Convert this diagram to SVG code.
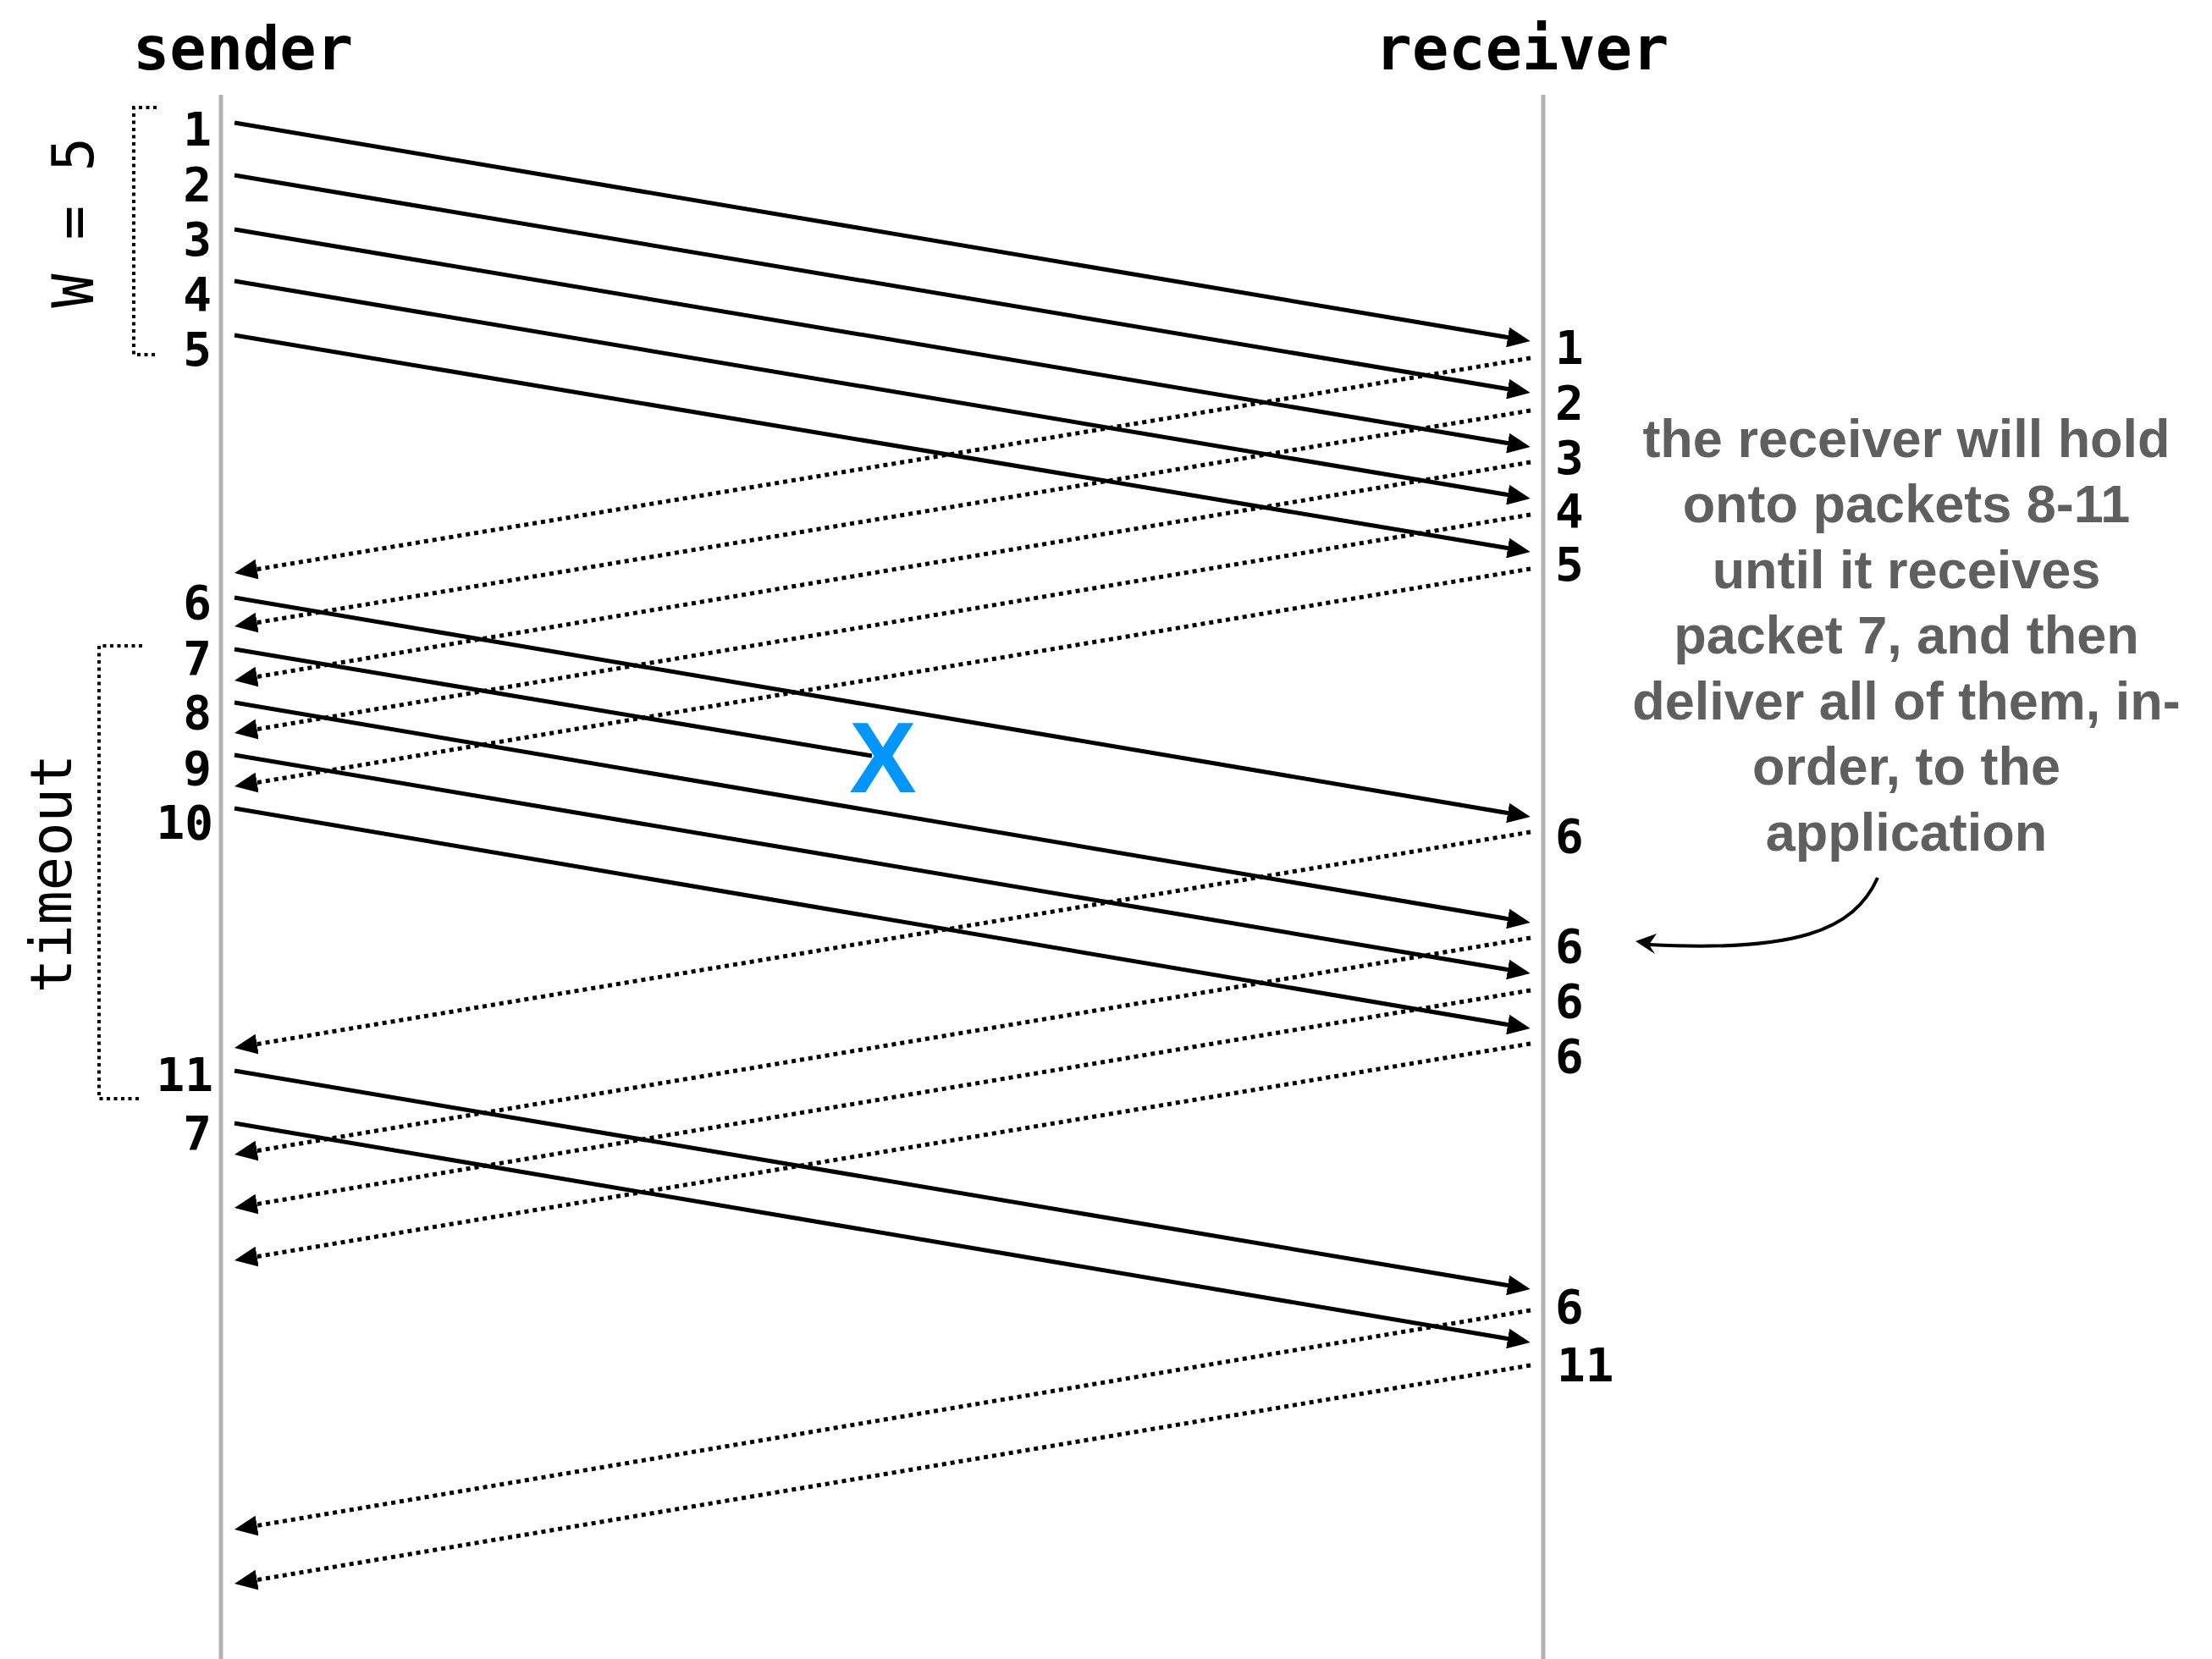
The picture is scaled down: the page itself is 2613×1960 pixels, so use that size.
<svg xmlns="http://www.w3.org/2000/svg" width="2613" height="1960" viewBox="0 0 2613 1960">
<style>
.life{stroke:#b3b3b3;stroke-width:5;fill:none}
.data{stroke:#000;stroke-width:5;fill:none}
.ack{stroke:#000;stroke-width:5;fill:none;stroke-dasharray:5 5}
.brk{stroke:#000;stroke-width:4;fill:none;stroke-dasharray:4 4.5}
.hdr{font-family:"DejaVu Sans Mono","Liberation Mono",monospace;font-weight:bold;font-size:72px;fill:#000}
.num{font-family:"DejaVu Sans Mono","Liberation Mono",monospace;font-weight:bold;font-size:56px;fill:#000}
.sl{text-anchor:end}
.side{font-family:"DejaVu Sans Mono","Liberation Mono",monospace;font-size:67px;fill:#000}
.note{font-family:"Liberation Sans",Arial,sans-serif;font-weight:bold;font-size:63px;fill:#5f5f5f;text-anchor:middle}
</style>
<defs>
<marker id="ah" viewBox="0 0 27 24" markerWidth="27" markerHeight="24" refX="7" refY="12" orient="auto" markerUnits="userSpaceOnUse">
<path d="M0,0 L27,12 L0,24 z" fill="#000"/>
</marker>
</defs>

<g id="sender">
<text class="hdr" x="287" y="82" text-anchor="middle">sender</text>
<line class="life" x1="261" y1="112" x2="261" y2="1960"/>
</g>
<g id="receiver">
<text class="hdr" x="1798" y="82" text-anchor="middle">receiver</text>
<line class="life" x1="1823" y1="112" x2="1823" y2="1960"/>
</g>

<g id="window">
<path class="brk" d="M185,127 H158 V419 H185"/>
<text class="side" transform="translate(110,263) rotate(-90)" text-anchor="middle">W = 5</text>
</g>
<g id="timeout">
<path class="brk" d="M168,763 H117 V1298 H168"/>
<text class="side" transform="translate(84,1032) rotate(-90)" text-anchor="middle">timeout</text>
</g>

<g id="sender-labels">
<text class="num sl" x="250" y="172">1</text>
<text class="num sl" x="250" y="237">2</text>
<text class="num sl" x="250" y="302">3</text>
<text class="num sl" x="250" y="367">4</text>
<text class="num sl" x="250" y="432">5</text>
<text class="num sl" x="250" y="731">6</text>
<text class="num sl" x="250" y="797">7</text>
<text class="num sl" x="250" y="861">8</text>
<text class="num sl" x="250" y="927">9</text>
<text class="num sl" x="252" y="991">10</text>
<text class="num sl" x="252" y="1289">11</text>
<text class="num sl" x="250" y="1358">7</text>
</g>

<g id="receiver-labels">
<text class="num" x="1837" y="430">1</text>
<text class="num" x="1837" y="495">2</text>
<text class="num" x="1837" y="560">3</text>
<text class="num" x="1837" y="623">4</text>
<text class="num" x="1837" y="686">5</text>
<text class="num" x="1837" y="1007">6</text>
<text class="num" x="1837" y="1137">6</text>
<text class="num" x="1837" y="1202">6</text>
<text class="num" x="1837" y="1267">6</text>
<text class="num" x="1837" y="1563">6</text>
<text class="num" x="1839" y="1632">11</text>
</g>

<g id="loss">
<text x="1043" y="936" font-family="Liberation Sans, Arial, sans-serif" font-weight="bold" font-size="119" fill="#0096ff" text-anchor="middle">X</text>
</g>

<g id="note">
<text class="note" x="2252" y="540">the receiver will hold</text>
<text class="note" x="2252" y="617">onto packets 8-11</text>
<text class="note" x="2252" y="695">until it receives</text>
<text class="note" x="2252" y="772">packet 7, and then</text>
<text class="note" x="2252" y="850">deliver all of them, in-</text>
<text class="note" x="2252" y="927">order, to the</text>
<text class="note" x="2252" y="1005">application</text>
</g>

<g id="connectors">
<line class="data" x1="277" y1="145" x2="1788" y2="399.7" marker-end="url(#ah)"/>
<line class="data" x1="277" y1="207" x2="1788" y2="460.7" marker-end="url(#ah)"/>
<line class="data" x1="277" y1="271" x2="1788" y2="524.7" marker-end="url(#ah)"/>
<line class="data" x1="277" y1="332" x2="1788" y2="585.7" marker-end="url(#ah)"/>
<line class="data" x1="277" y1="396" x2="1788" y2="648.7" marker-end="url(#ah)"/>
<line class="data" x1="277" y1="706" x2="1788" y2="961.7" marker-end="url(#ah)"/>
<line class="data" x1="277" y1="767" x2="1030" y2="893"/>
<line class="data" x1="277" y1="830" x2="1788" y2="1086.7" marker-end="url(#ah)"/>
<line class="data" x1="277" y1="892" x2="1788" y2="1146.7" marker-end="url(#ah)"/>
<line class="data" x1="277" y1="955" x2="1788" y2="1211.7" marker-end="url(#ah)"/>
<line class="data" x1="277" y1="1265" x2="1788" y2="1519.7" marker-end="url(#ah)"/>
<line class="data" x1="277" y1="1327" x2="1788" y2="1582.7" marker-end="url(#ah)"/>

<line class="ack" x1="1808" y1="423" x2="296.7" y2="673.7" marker-end="url(#ah)"/>
<line class="ack" x1="1808" y1="485" x2="296.7" y2="736.7" marker-end="url(#ah)"/>
<line class="ack" x1="1808" y1="546" x2="296.7" y2="800.7" marker-end="url(#ah)"/>
<line class="ack" x1="1808" y1="608" x2="296.7" y2="862.7" marker-end="url(#ah)"/>
<line class="ack" x1="1808" y1="672" x2="296.7" y2="925.7" marker-end="url(#ah)"/>
<line class="ack" x1="1808" y1="983" x2="296.7" y2="1234.7" marker-end="url(#ah)"/>
<line class="ack" x1="1808" y1="1108" x2="296.7" y2="1360.7" marker-end="url(#ah)"/>
<line class="ack" x1="1808" y1="1170" x2="296.7" y2="1423.7" marker-end="url(#ah)"/>
<line class="ack" x1="1808" y1="1233" x2="296.7" y2="1485.7" marker-end="url(#ah)"/>
<line class="ack" x1="1808" y1="1548" x2="296.7" y2="1803.7" marker-end="url(#ah)"/>
<line class="ack" x1="1808" y1="1613" x2="296.7" y2="1867.7" marker-end="url(#ah)"/>

<path d="M2218,1037 C2190,1100 2120,1125 1948,1116" fill="none" stroke="#000" stroke-width="4"/>
<path d="M1932,1112 L1957,1103 L1948,1116 L1955,1127 z" fill="#000"/>
</g>
</svg>
